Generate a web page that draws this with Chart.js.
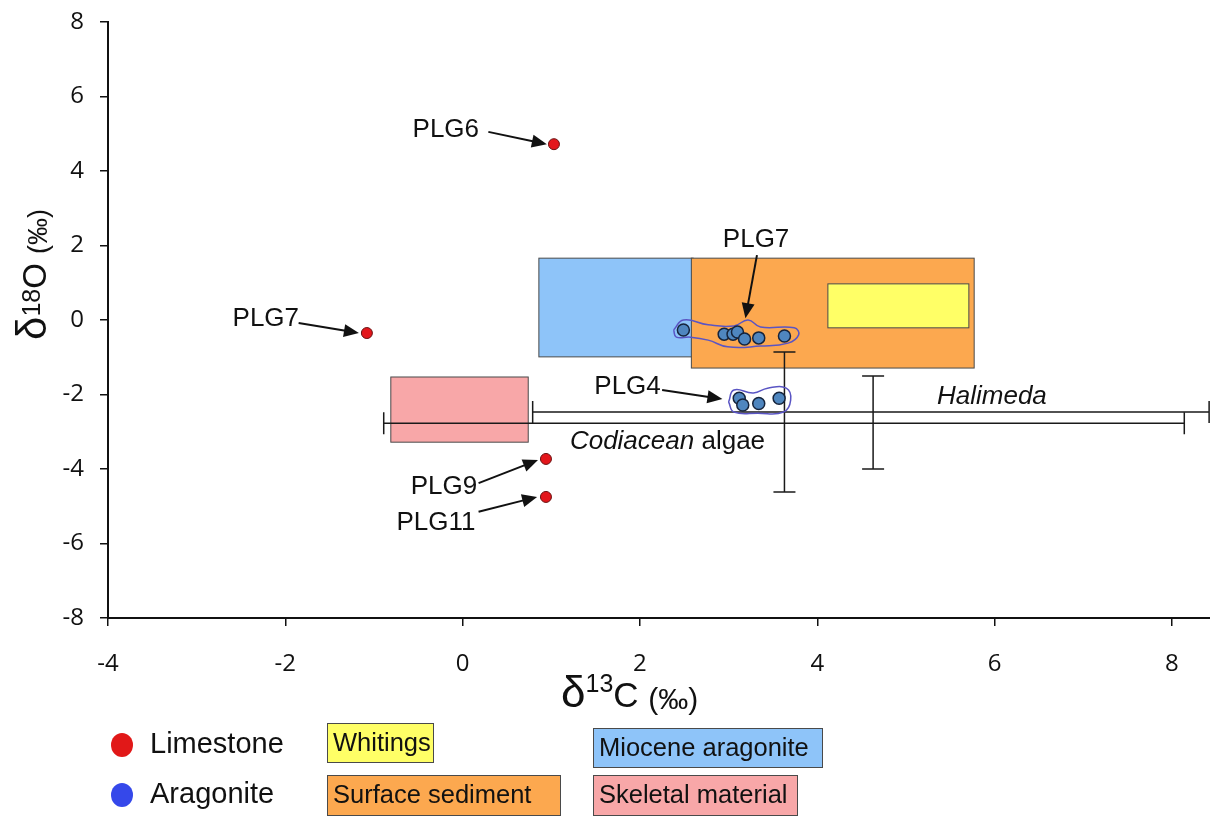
<!DOCTYPE html>
<html>
<head>
<meta charset="utf-8">
<script src="https://cdn.jsdelivr.net/npm/chart.js@4"></script>
<style>
  body { margin: 0; background: #fff; }
  canvas { display: block; }
</style>
</head>
<body>
<canvas id="chart" width="1210" height="816"></canvas>
<script>
// limestone samples (red)
const limeNames = ["PLG6", "PLG7", "PLG9", "PLG11"];
const limeC = [1.03, -1.08, 0.94, 0.94];
const limeO = [4.72, -0.35, -3.73, -4.75];

// aragonite samples (blue): PLG7 cluster then PLG4 cluster
const araC = [2.49, 2.95, 3.05, 3.10, 3.18, 3.34, 3.63, 3.12, 3.16, 3.34, 3.57];
const araO = [-0.27, -0.38, -0.38, -0.32, -0.51, -0.48, -0.43, -2.10, -2.28, -2.24, -2.10];

// field boxes
const boxNames = ["Miocene aragonite", "Surface sediment", "Whitings", "Skeletal material"];
const boxC0 = [0.86, 2.58, 4.12, -0.81];
const boxC1 = [2.60, 5.77, 5.71, 0.74];
const boxO0 = [-0.99, -1.29, -0.21, -3.28];
const boxO1 = [1.66, 1.66, 0.97, -1.53];
const boxColors = ["#8ec4f9", "#fca84f", "#ffff66", "#f8a7a8"];

// error bars: Halimeda, Codiacean algae
const errNames = ["Halimeda", "Codiacean algae"];
const errC = [4.63, 3.63];
const errO = [-2.47, -2.77];
const errCLo = [0.79, -0.89];
const errCHi = [8.42, 8.14];
const errOLo = [-4.00, -4.62];
const errOHi = [-1.50, -0.86];

// hand-drawn outlines around the aragonite clusters
const loop7C = [2.38, 2.49, 2.77, 3.06, 3.22, 3.36, 3.74, 3.79, 3.67, 3.36, 2.99, 2.77, 2.57, 2.41, 2.38];
const loop7O = [-0.27, 0.00, -0.13, -0.16, 0.00, -0.19, -0.21, -0.40, -0.62, -0.70, -0.72, -0.54, -0.46, -0.46, -0.27];
const loop4C = [3.00, 3.06, 3.28, 3.44, 3.65, 3.70, 3.62, 3.33, 3.06, 3.00];
const loop4O = [-2.20, -1.88, -1.96, -1.83, -1.83, -2.15, -2.47, -2.50, -2.47, -2.20];

const xTicks = [-4, -2, 0, 2, 4, 6, 8];
const yTicks = [-8, -6, -4, -2, 0, 2, 4, 6, 8];

// labels with arrows (data coords)
const notes = [
  { text: "PLG6", c: -0.19, o: 5.10, from: [0.29, 5.05], to: [0.95, 4.72] },
  { text: "PLG7", c: -2.22, o: 0.03, from: [-1.85, -0.08], to: [-1.17, -0.35] },
  { text: "PLG7", c: 3.31, o: 2.15, from: [3.32, 1.74], to: [3.19, 0.05] },
  { text: "PLG4", c: 1.86, o: -1.80, from: [2.25, -1.88], to: [2.93, -2.12] },
  { text: "PLG9", c: -0.21, o: -4.48, from: [0.18, -4.38], to: [0.85, -3.76] },
  { text: "PLG11", c: -0.30, o: -5.45, from: [0.18, -5.15], to: [0.84, -4.75] }
];

const pts = (xs, ys) => xs.map((x, i) => ({ x: x, y: ys[i] }));
const SANS = "'Liberation Sans', Arial, sans-serif";

function arrow(ctx, x1, y1, x2, y2) {
  const a = Math.atan2(y2 - y1, x2 - x1);
  const L = 15, W = 6.5;
  ctx.beginPath();
  ctx.moveTo(x1, y1);
  ctx.lineTo(x2 - Math.cos(a) * L * 0.8, y2 - Math.sin(a) * L * 0.8);
  ctx.stroke();
  ctx.beginPath();
  ctx.moveTo(x2, y2);
  ctx.lineTo(x2 - Math.cos(a) * L + Math.sin(a) * W, y2 - Math.sin(a) * L - Math.cos(a) * W);
  ctx.lineTo(x2 - Math.cos(a) * L - Math.sin(a) * W, y2 - Math.sin(a) * L + Math.cos(a) * W);
  ctx.closePath();
  ctx.fill();
}

const fieldsPlugin = {
  id: "fields",
  beforeDatasetsDraw(chart) {
    const { ctx, scales: { x, y } } = chart;
    ctx.save();
    // boxes
    boxNames.forEach((n, i) => {
      const px0 = x.getPixelForValue(boxC0[i]), px1 = x.getPixelForValue(boxC1[i]);
      const py0 = y.getPixelForValue(boxO1[i]), py1 = y.getPixelForValue(boxO0[i]);
      ctx.fillStyle = boxColors[i];
      ctx.fillRect(px0, py0, px1 - px0, py1 - py0);
      ctx.strokeStyle = "#4a4a4a";
      ctx.lineWidth = 1;
      ctx.strokeRect(px0, py0, px1 - px0, py1 - py0);
    });
    // error bars
    ctx.strokeStyle = "#1a1a1a";
    ctx.lineWidth = 1.5;
    const cap = 11;
    errNames.forEach((n, i) => {
      const cx = x.getPixelForValue(errC[i]), cy = y.getPixelForValue(errO[i]);
      const xl = x.getPixelForValue(errCLo[i]), xh = x.getPixelForValue(errCHi[i]);
      const yl = y.getPixelForValue(errOLo[i]), yh = y.getPixelForValue(errOHi[i]);
      ctx.beginPath();
      ctx.moveTo(xl, cy); ctx.lineTo(xh, cy);
      ctx.moveTo(xl, cy - cap); ctx.lineTo(xl, cy + cap);
      ctx.moveTo(xh, cy - cap); ctx.lineTo(xh, cy + cap);
      ctx.moveTo(cx, yl); ctx.lineTo(cx, yh);
      ctx.moveTo(cx - cap, yl); ctx.lineTo(cx + cap, yl);
      ctx.moveTo(cx - cap, yh); ctx.lineTo(cx + cap, yh);
      ctx.stroke();
    });
    ctx.restore();
  },
  afterDatasetsDraw(chart) {
    const { ctx, scales: { x, y } } = chart;
    ctx.save();
    ctx.fillStyle = "#111";
    ctx.strokeStyle = "#111";
    ctx.lineWidth = 2;
    ctx.font = "26px " + SANS;
    ctx.textAlign = "center";
    ctx.textBaseline = "middle";
    notes.forEach(n => {
      ctx.fillText(n.text, x.getPixelForValue(n.c), y.getPixelForValue(n.o));
      arrow(ctx, x.getPixelForValue(n.from[0]), y.getPixelForValue(n.from[1]),
        x.getPixelForValue(n.to[0]), y.getPixelForValue(n.to[1]));
    });
    ctx.font = "italic 26px " + SANS;
    ctx.fillText("Halimeda", x.getPixelForValue(5.97), y.getPixelForValue(-2.07));
    // Codiacean (italic) + algae
    ctx.textAlign = "left";
    const cx0 = x.getPixelForValue(1.21), cy0 = y.getPixelForValue(-3.28);
    ctx.font = "italic 26px " + SANS;
    ctx.fillText("Codiacean", cx0, cy0);
    const w = ctx.measureText("Codiacean ").width;
    ctx.font = "26px " + SANS;
    ctx.fillText("algae", cx0 + w, cy0);
    ctx.restore();
  },
  afterDraw(chart) {
    const { ctx } = chart;
    ctx.save();
    ctx.fillStyle = "#111";
    ctx.textBaseline = "alphabetic";
    ctx.textAlign = "left";
    // x title: δ13C (‰)
    let px = 561;
    const base = 707;
    ctx.font = "44px " + SANS;
    ctx.fillText("δ", px, base); px += ctx.measureText("δ").width;
    ctx.font = "25px " + SANS;
    ctx.fillText("13", px, base - 15); px += ctx.measureText("13").width;
    ctx.font = "35px " + SANS;
    ctx.fillText("C", px, base); px += ctx.measureText("C ").width;
    ctx.font = "30px " + SANS;
    ctx.fillText("(‰)", px, base + 2);
    // y title: δ18O (‰)
    ctx.translate(46, 340);
    ctx.rotate(-Math.PI / 2);
    px = 0;
    ctx.font = "42px " + SANS;
    ctx.fillText("δ", px, 0); px += ctx.measureText("δ").width;
    ctx.font = "25px " + SANS;
    ctx.fillText("18", px, -6); px += ctx.measureText("18").width;
    ctx.font = "33px " + SANS;
    ctx.fillText("O", px, 0); px += ctx.measureText("O ").width;
    ctx.font = "27px " + SANS;
    ctx.fillText("(‰)", px, 1);
    ctx.restore();

    // legend
    ctx.save();
    ctx.textBaseline = "middle";
    ctx.textAlign = "left";
    const dots = [["Limestone", "#e11818", 745], ["Aragonite", "#3548ea", 795]];
    dots.forEach(d => {
      ctx.beginPath();
      ctx.ellipse(122, d[2], 11, 12, 0, 0, Math.PI * 2);
      ctx.fillStyle = d[1];
      ctx.fill();
      ctx.fillStyle = "#111";
      ctx.font = "29px " + SANS;
      ctx.fillText(d[0], 150, d[2]);
    });
    const keys = [
      ["Whitings", 2, 327, 723, 106, 39],
      ["Surface sediment", 1, 327, 775, 233, 40],
      ["Miocene aragonite", 0, 593, 728, 229, 39],
      ["Skeletal material", 3, 593, 775, 204, 40]
    ];
    keys.forEach(k => {
      ctx.fillStyle = boxColors[k[1]];
      ctx.fillRect(k[2], k[3], k[4], k[5]);
      ctx.strokeStyle = "#4a4a4a";
      ctx.lineWidth = 1;
      ctx.strokeRect(k[2] + 0.5, k[3] + 0.5, k[4], k[5]);
      ctx.fillStyle = "#111";
      ctx.font = "25.5px " + SANS;
      ctx.fillText(k[0], k[2] + 6, k[3] + k[5] / 2 + 1);
    });
    ctx.restore();
  }
};

new Chart(document.getElementById("chart"), {
  type: "scatter",
  data: {
    datasets: [
      {
        label: "Limestone",
        data: pts(limeC, limeO),
        backgroundColor: "#e3161b",
        borderColor: "#6a1010",
        borderWidth: 1,
        pointRadius: 5.5
      },
      {
        label: "Aragonite",
        data: pts(araC, araO),
        backgroundColor: "#4f86bf",
        borderColor: "#16243c",
        borderWidth: 1.5,
        pointRadius: 6
      },
      {
        type: "line",
        label: "loop PLG7",
        data: pts(loop7C, loop7O),
        borderColor: "#5a55c4",
        borderWidth: 1.5,
        pointRadius: 0,
        tension: 0.45,
        fill: false
      },
      {
        type: "line",
        label: "loop PLG4",
        data: pts(loop4C, loop4O),
        borderColor: "#5a55c4",
        borderWidth: 1.5,
        pointRadius: 0,
        tension: 0.45,
        fill: false
      }
    ]
  },
  options: {
    responsive: false,
    animation: false,
    devicePixelRatio: 1,
    layout: { autoPadding: false, padding: { top: 22, right: 0, left: 0, bottom: 0 } },
    plugins: {
      legend: { display: false },
      tooltip: { enabled: false }
    },
    scales: {
      x: {
        type: "linear",
        min: -4,
        max: 8.43,
        afterFit: s => { s.height = 198; s.paddingRight = 0; s.paddingLeft = 0; },
        afterBuildTicks: s => { s.ticks = xTicks.map(v => ({ value: v })); },
        grid: { display: true, drawOnChartArea: false, drawTicks: true, tickLength: 8, color: "#111", lineWidth: 1.5 },
        border: { color: "#111", width: 2 },
        ticks: { color: "#111", padding: 24, font: { family: "'Open Sans', sans-serif", size: 24 } }
      },
      y: {
        type: "linear",
        min: -8,
        max: 8,
        afterFit: s => { s.width = 108; s.paddingTop = 0; s.paddingBottom = 0; },
        afterBuildTicks: s => { s.ticks = yTicks.map(v => ({ value: v })); },
        grid: { display: true, drawOnChartArea: false, drawTicks: true, tickLength: 8, color: "#111", lineWidth: 1.5 },
        border: { color: "#111", width: 2 },
        ticks: { color: "#111", padding: 16, font: { family: "'Open Sans', sans-serif", size: 24 } }
      }
    }
  },
  plugins: [fieldsPlugin]
});
</script>
</body>
</html>
